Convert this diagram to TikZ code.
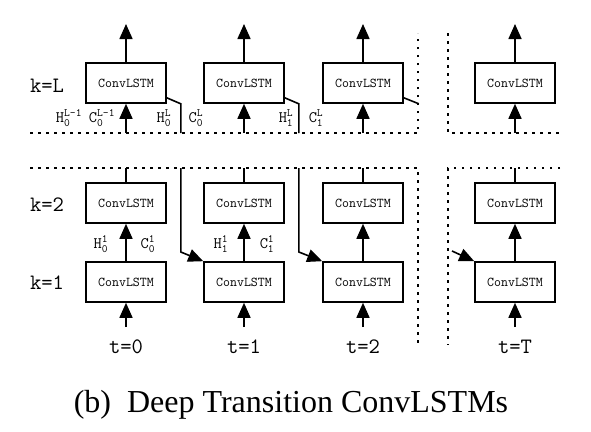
\documentclass[tikz,border=0pt]{standalone}
\usepackage{amsmath}
\usepackage{fontspec}
\setmainfont{Liberation Serif}
\usetikzlibrary{arrows.meta,positioning,calc}

\tikzset{
  cell/.style={rectangle,draw,line width=1.6pt,minimum width=80pt,minimum height=40pt,
    inner sep=0pt,font=\ttfamily\fontsize{13.5}{13.5}\selectfont},
  wire/.style={line width=1.6pt},
  flow/.style={wire,-{Triangle[length=15pt,width=13pt]}},
  sep/.style={line width=1.6pt,dash pattern=on 2.5pt off 5.5pt},
  big/.style={font=\ttfamily\fontsize{22}{22}\selectfont},
  st/.style={inner sep=0pt,font=\ttfamily\fontsize{16}{16}\selectfont},
}
\newcommand{\hc}[3]{$\text{#1}_{\text{#2}}^{\text{#3}}$}

\begin{document}
\begin{tikzpicture}[x=1pt,y=-1pt]
  \useasboundingbox (0,0) rectangle (591,431);

  % one column per time step
  \foreach \c/\x in {0/126,1/244,2/363,T/515} {
    \node [cell] (L\c) at (\x,83) {ConvLSTM};
    \node [cell] (M\c) at (\x,203) {ConvLSTM};
    \node [cell] (B\c) at (\x,282) {ConvLSTM};
    \coordinate (out\c) at (\x,24);
    \coordinate (inL\c) at (\x,133);
    \coordinate (upM\c) at (\x,168);
    \coordinate (in\c) at (\x,327);
    \node [big] (t\c) at (\x,347) {t=\c};
    \draw [flow] (L\c.north) -- (out\c);
    \draw [flow] (inL\c) -- (L\c.south);
    \draw [wire] (M\c.north) -- (upM\c);
    \draw [flow] (B\c.north) -- (M\c.south);
    \draw [flow] (in\c) -- (B\c.south);
  }

  % depth labels
  \node [big] (kL) at (47,86) {k=L};
  \node [big] (k2) at (47,205) {k=2};
  \node [big] (k1) at (47,283) {k=1};

  % deep transition from top of step t to bottom of step t+1
  \foreach \a/\b in {0/1,1/2} {
    \coordinate (d\a) at ($(L\a.south east)+(14,0)$);
    \draw [wire] ([yshift=6pt]L\a.south east) -- (d\a) -- (d\a |- inL\a);
    \draw [flow] (d\a |- upM\a) -- ++(0,84) -- (B\b.north west);
  }
  \draw [wire] ([yshift=6pt]L2.south east) -- ++(15,6);
  \coordinate (enterT) at (452,251);
  \draw [flow] (enterT) -- (BT.north west);

  % breaks
  \draw [sep] (30,133) -- (418,133) -- (418,33);
  \draw [sep] (448,33) -- (448,133) -- (560,133);
  \draw [sep] (30,168) -- (418,168) -- (418,345);
  \draw [sep] (560,168) -- (448,168) -- (448,345);

  % states
  \node [st] (h0L1) at (69,118) {\hc{H}{0}{L-1}};
  \node [st] (c0L1) at (102,118) {\hc{C}{0}{L-1}};
  \node [st] (h0L) at (164,118) {\hc{H}{0}{L}};
  \node [st] (c0L) at (196,118) {\hc{C}{0}{L}};
  \node [st] (h1L) at (286,118) {\hc{H}{1}{L}};
  \node [st] (c1L) at (316,118) {\hc{C}{1}{L}};
  \node [st] (h01) at (101,244) {\hc{H}{0}{1}};
  \node [st] (c01) at (148,244) {\hc{C}{0}{1}};
  \node [st] (h11) at (221,244) {\hc{H}{1}{1}};
  \node [st] (c11) at (267,244) {\hc{C}{1}{1}};

  \node [font=\fontsize{32}{32}\selectfont] (cap) at (291,405) {(b)\enspace Deep Transition ConvLSTMs};
\end{tikzpicture}
\end{document}
